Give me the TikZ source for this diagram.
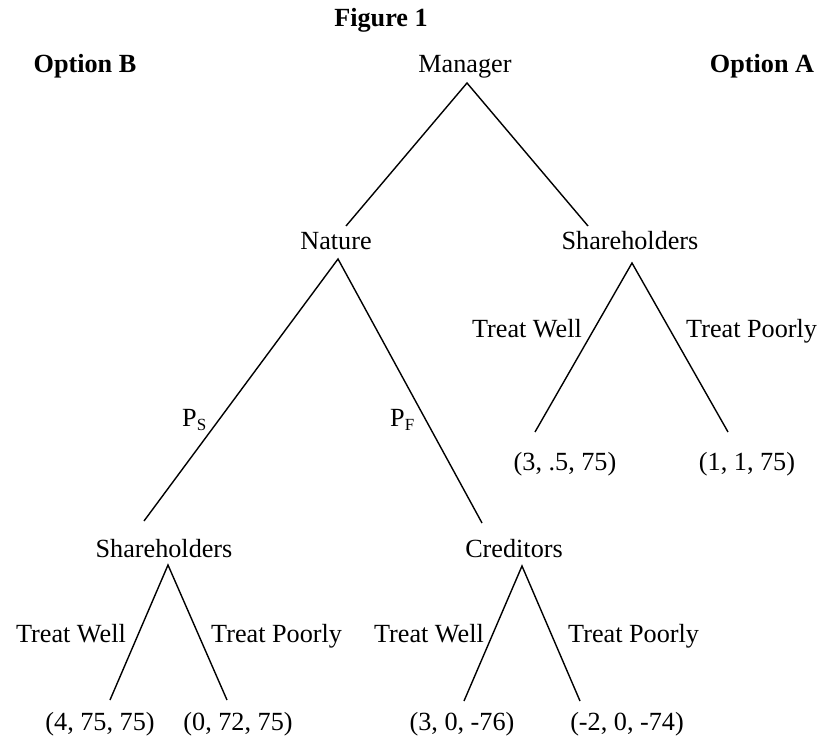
\documentclass[tikz,border=0pt]{standalone}
\usepackage{fontspec}
\setmainfont{Liberation Serif}
\newcommand{\subtxt}[1]{\raisebox{-4pt}{\fontsize{17}{17}\selectfont #1}}
\begin{document}
\begin{tikzpicture}[x=1pt,y=-1pt,
  lbl/.style={font=\fontsize{26.2}{30}\selectfont, inner sep=0pt, anchor=base},
  ttl/.style={font=\fontsize{26.2}{30}\selectfont\bfseries, inner sep=0pt, anchor=base},
  edge/.style={line width=1.4pt, line join=miter}]
\useasboundingbox (0,0) rectangle (822,738);
% titles
\node[ttl] (fig) at (381,27) {Figure 1};
\node[ttl] (optB) at (85,73) {Option B};
\node[ttl] (optA) at (762,73) {Option A};
% decision nodes
\node[lbl] (manager) at (465,73) {Manager};
\node[lbl] (nature) at (336,250) {Nature};
\node[lbl] (shA) at (630,250) {Shareholders};
\node[lbl] (shB) at (164,557) {Shareholders};
\node[lbl] (cred) at (514,557) {Creditors};
% payoffs
\node[lbl] (pA1) at (565,470) {(3, .5, 75)};
\node[lbl] (pA2) at (747,470) {(1, 1, 75)};
\node[lbl] (pB1) at (100,730) {(4, 75, 75)};
\node[lbl] (pB2) at (238,730) {(0, 72, 75)};
\node[lbl] (pC1) at (462,730) {(3, 0, -76)};
\node[lbl] (pC2) at (627,730) {(-2, 0, -74)};
% branch labels
\node[lbl, anchor=base east] (twA) at (582,337) {Treat Well};
\node[lbl, anchor=base west] (tpA) at (686,337) {Treat Poorly};
\node[lbl, anchor=base east] (twB) at (126,642) {Treat Well};
\node[lbl, anchor=base west] (tpB) at (211,642) {Treat Poorly};
\node[lbl, anchor=base east] (twC) at (484,642) {Treat Well};
\node[lbl, anchor=base west] (tpC) at (568,642) {Treat Poorly};
\node[lbl, anchor=base west] (ps) at (182,426) {P\subtxt{S}};
\node[lbl, anchor=base west] (pf) at (390,426) {P\subtxt{F}};
% line end points
\coordinate (mTop) at (467,83);
\coordinate (natIn) at (346,226);
\coordinate (shAIn) at (588,226);
\coordinate (natTop) at (338,259);
\coordinate (shBIn) at (144,521);
\coordinate (credIn) at (482,523);
\coordinate (shATop) at (632,263);
\coordinate (pA1In) at (535,432);
\coordinate (pA2In) at (728,432);
\coordinate (shBTop) at (168,565);
\coordinate (pB1In) at (110,700);
\coordinate (pB2In) at (227,700);
\coordinate (credTop) at (522,566);
\coordinate (pC1In) at (464,701);
\coordinate (pC2In) at (580,701);
% connectors
\draw[edge] (natIn) -- (mTop) -- (shAIn);
\draw[edge] (shBIn) -- (natTop) -- (credIn);
\draw[edge] (pA1In) -- (shATop) -- (pA2In);
\draw[edge] (pB1In) -- (shBTop) -- (pB2In);
\draw[edge] (pC1In) -- (credTop) -- (pC2In);
\end{tikzpicture}
\end{document}
